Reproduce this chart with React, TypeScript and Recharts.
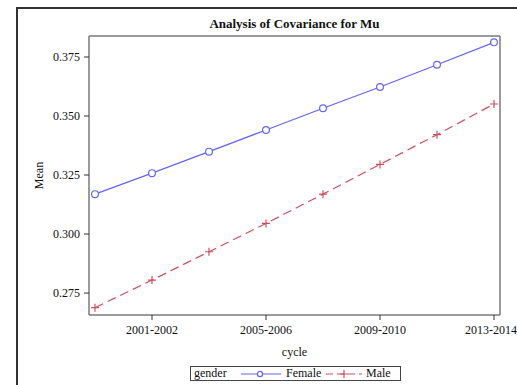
import React from "react";
import { LineChart, Line, XAxis, YAxis, Legend, Label } from "recharts";

// survey cycles and least-squares means per gender
const cycles = [
  "1999-2000",
  "2001-2002",
  "2003-2004",
  "2005-2006",
  "2007-2008",
  "2009-2010",
  "2011-2012",
  "2013-2014",
];
const femaleMean = [0.3169, 0.3258, 0.3349, 0.3441, 0.3533, 0.3623, 0.3717, 0.3812];
const maleMean = [0.2688, 0.2805, 0.2925, 0.3045, 0.3169, 0.3295, 0.3421, 0.3551];
const xTicks = ["2001-2002", "2005-2006", "2009-2010", "2013-2014"];
const yTicks = [0.275, 0.3, 0.325, 0.35, 0.375];

const data = cycles.map((cycle, i) => ({
  cycle,
  Female: femaleMean[i],
  Male: maleMean[i],
}));

const FONT = "'Liberation Serif', 'Times New Roman', serif";
const BLUE = "#6464f6";
const RED = "#d04f5e";
const FRAME = "#7a7a7a";
const Y_DOMAIN = [0.2657, 0.3839];

const PlusDot = (props: any) => {
  const { cx, cy } = props;
  if (cx == null || cy == null) return null;
  return (
    <path
      d={`M${cx - 4},${cy}H${cx + 4}M${cx},${cy - 4}V${cy + 4}`}
      stroke={RED}
      strokeWidth={1.2}
      fill="none"
    />
  );
};

const GenderLegend = () => (
  <div
    style={{
      width: 209,
      height: 13,
      border: "1px solid #444",
      display: "flex",
      alignItems: "center",
      fontFamily: FONT,
      fontSize: 12,
      color: "#111",
      lineHeight: "13px",
      background: "#fff",
    }}
  >
    <span style={{ marginLeft: 3, width: 47 }}>gender</span>
    <svg width={40} height={12}>
      <line x1={0} y1={6} x2={40} y2={6} stroke={BLUE} strokeWidth={1.2} />
      <circle cx={19} cy={6} r={2.6} stroke={BLUE} strokeWidth={1.2} fill="#fff" />
    </svg>
    <span style={{ marginLeft: 5, width: 40 }}>Female</span>
    <svg width={36} height={12}>
      <line x1={0} y1={6} x2={36} y2={6} stroke={RED} strokeWidth={1.2} strokeDasharray="7 4" />
      <path d="M14,6H22M18,2V10" stroke={RED} strokeWidth={1.2} />
    </svg>
    <span style={{ marginLeft: 4 }}>Male</span>
  </div>
);

export default function App() {
  return (
    <div style={{ position: "absolute", left: 0, top: 0, width: 517, height: 385, background: "#fff" }}>
      <div
        style={{
          position: "absolute",
          left: 16,
          top: 7,
          width: 501,
          height: 378,
          borderTop: "2px solid #333",
          borderLeft: "2px solid #333",
        }}
      />
      <LineChart
        width={517}
        height={385}
        data={data}
        margin={{ top: 35, right: 16, bottom: 40, left: 29 }}
        style={{ position: "absolute", left: 0, top: 0 }}
      >
        <XAxis
          dataKey="cycle"
          type="category"
          ticks={xTicks}
          padding={{ left: 6, right: 6 }}
          height={30}
          tickSize={5}
          tickMargin={5}
          axisLine={{ stroke: FRAME, strokeWidth: 1.5 }}
          tickLine={{ stroke: "#333" }}
          tick={{ fill: "#111", fontSize: 12, fontFamily: FONT }}
        >
          <Label
            content={({ viewBox }: any) => (
              <text
                x={viewBox.x + viewBox.width / 2}
                y={viewBox.y + 41}
                textAnchor="middle"
                fontFamily={FONT}
                fontSize={12}
                fill="#111"
              >
                cycle
              </text>
            )}
          />
        </XAxis>
        {/* top and right axes only close the plot frame */}
        <XAxis
          xAxisId="top"
          dataKey="cycle"
          orientation="top"
          height={1}
          tick={false}
          tickLine={false}
          axisLine={{ stroke: FRAME, strokeWidth: 1.5 }}
        >
          <Label
            content={({ viewBox }: any) => (
              <text
                x={viewBox.x + viewBox.width / 2}
                y={viewBox.y - 7}
                textAnchor="middle"
                fontFamily={FONT}
                fontSize={13}
                fontWeight="bold"
                fill="#111"
              >
                Analysis of Covariance for Mu
              </text>
            )}
          />
        </XAxis>
        <YAxis
          type="number"
          domain={Y_DOMAIN}
          allowDataOverflow
          ticks={yTicks}
          tickFormatter={(v: number) => v.toFixed(3)}
          width={60}
          tickSize={5}
          tickMargin={4}
          axisLine={{ stroke: FRAME, strokeWidth: 1.5 }}
          tickLine={{ stroke: "#333" }}
          tick={{ fill: "#111", fontSize: 12, fontFamily: FONT }}
        >
          <Label
            content={({ viewBox }: any) => {
              const x = viewBox.x + 10;
              const y = viewBox.y + viewBox.height / 2;
              return (
                <text
                  x={x}
                  y={y}
                  transform={`rotate(-90, ${x}, ${y})`}
                  textAnchor="middle"
                  dominantBaseline="central"
                  fontFamily={FONT}
                  fontSize={12}
                  fill="#111"
                >
                  Mean
                </text>
              );
            }}
          />
        </YAxis>
        <YAxis
          yAxisId="right"
          orientation="right"
          width={1}
          domain={Y_DOMAIN}
          tick={false}
          tickLine={false}
          axisLine={{ stroke: FRAME, strokeWidth: 1.5 }}
        />
        <Legend
          verticalAlign="middle"
          layout="horizontal"
          content={() => <GenderLegend />}
          wrapperStyle={{ left: 190, top: 366, width: 211 }}
        />
        <Line
          dataKey="Female"
          stroke={BLUE}
          strokeWidth={1.2}
          dot={{ r: 3.4, stroke: BLUE, strokeWidth: 1.2, fill: "#fff" }}
          activeDot={false}
          isAnimationActive={false}
        />
        <Line
          dataKey="Male"
          stroke={RED}
          strokeWidth={1.2}
          strokeDasharray="9 5"
          dot={<PlusDot />}
          activeDot={false}
          isAnimationActive={false}
        />
      </LineChart>
    </div>
  );
}
